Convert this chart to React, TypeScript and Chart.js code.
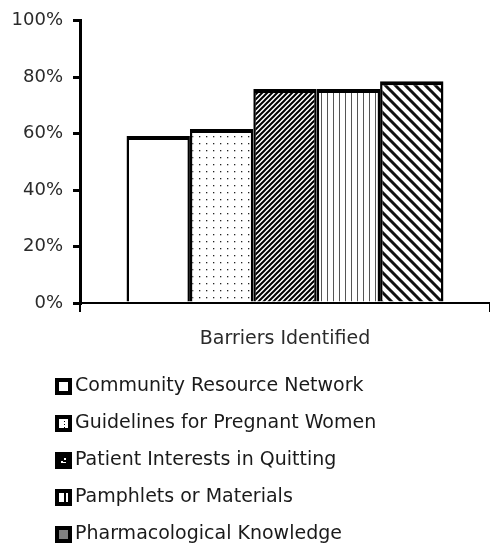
import React, { useEffect, useRef } from 'react';
import { Chart, registerables } from 'chart.js';

Chart.register(...registerables);

const categories = ['Barriers Identified'];
const seriesNames = [
  'Community Resource Network',
  'Guidelines for Pregnant Women',
  'Patient Interests in Quitting',
  'Pamphlets or Materials',
  'Pharmacological Knowledge',
];
const seriesValues = [59.2, 61.7, 75.8, 75.8, 78.6];
const seriesPatterns = ['blank', 'dots', 'denseSlash', 'vlines', 'backslash'];
const yTickValues = [0, 20, 40, 60, 80, 100];

const FONT = '"DejaVu Sans", Verdana, sans-serif';

function makePattern(kind: string): CanvasPattern | string {
  if (kind === 'blank') return '#ffffff';
  const c = document.createElement('canvas');
  const ctx = c.getContext('2d')!;
  if (kind === 'dots') {
    c.width = 7; c.height = 7;
    ctx.fillStyle = '#fff'; ctx.fillRect(0, 0, 7, 7);
    ctx.fillStyle = '#222'; ctx.fillRect(3, 3, 1.3, 1.3);
  } else if (kind === 'denseSlash') {
    c.width = 5; c.height = 5;
    ctx.fillStyle = '#fff'; ctx.fillRect(0, 0, 5, 5);
    ctx.strokeStyle = '#000'; ctx.lineWidth = 2;
    ctx.beginPath();
    ctx.moveTo(-1, 6); ctx.lineTo(6, -1);
    ctx.moveTo(-1, 1); ctx.lineTo(1, -1);
    ctx.moveTo(4, 6); ctx.lineTo(6, 4);
    ctx.stroke();
  } else if (kind === 'vlines') {
    c.width = 6; c.height = 6;
    ctx.fillStyle = '#fff'; ctx.fillRect(0, 0, 6, 6);
    ctx.fillStyle = '#555'; ctx.fillRect(3, 0, 1, 6);
  } else if (kind === 'backslash') {
    c.width = 10; c.height = 10;
    ctx.fillStyle = '#fff'; ctx.fillRect(0, 0, 10, 10);
    ctx.strokeStyle = '#111'; ctx.lineWidth = 3;
    ctx.beginPath();
    ctx.moveTo(-1, -1); ctx.lineTo(11, 11);
    ctx.moveTo(-1, 9); ctx.lineTo(1, 11);
    ctx.moveTo(9, -1); ctx.lineTo(11, 1);
    ctx.stroke();
  }
  return ctx.createPattern(c, 'repeat')!;
}

function makeIcon(i: number): HTMLCanvasElement {
  const c = document.createElement('canvas');
  c.width = 17; c.height = 17;
  const ctx = c.getContext('2d')!;
  ctx.fillStyle = '#000';
  ctx.fillRect(0, 0, 17, 17);
  if (i === 2) {
    ctx.fillStyle = '#fff';
    ctx.fillRect(6, 9, 2, 2);
    ctx.fillRect(9, 6, 2, 2);
    ctx.fillRect(8, 10, 3, 1);
    return c;
  }
  ctx.fillStyle = i === 4 ? '#808080' : '#fff';
  ctx.fillRect(4, 4, 9, 9);
  ctx.fillStyle = '#000';
  if (i === 1) {
    ctx.fillRect(9, 6, 1, 1);
    ctx.fillRect(9, 9, 1, 1);
    ctx.fillRect(9, 12, 1, 1);
  } else if (i === 3) {
    ctx.fillRect(9, 4, 2, 9);
  }
  return c;
}

const legendShift = {
  id: 'legendShift',
  afterLayout(chart: any) {
    if (chart.legend) {
      chart.legend.left = 43.5;
    }
  },
};

export default function App() {
  const ref = useRef<HTMLCanvasElement | null>(null);

  useEffect(() => {
    if (!ref.current) return;
    const icons = seriesNames.map((_, i) => makeIcon(i));
    const chart = new Chart(ref.current, {
      type: 'bar',
      data: {
        labels: categories,
        datasets: seriesNames.map((name, i) => ({
          label: name,
          data: [seriesValues[i]],
          backgroundColor: makePattern(seriesPatterns[i]) as any,
          borderColor: '#000',
          borderWidth: { top: 4, left: 2.5, right: 2.5, bottom: 0 },
          borderSkipped: false as any,
          categoryPercentage: 0.773,
          barPercentage: 1,
        })),
      },
      plugins: [legendShift],
      options: {
        animation: false,
        responsive: true,
        maintainAspectRatio: false,
        devicePixelRatio: 1,
        layout: { padding: { top: 20, left: 0, right: 0, bottom: -8 } },
        plugins: {
          tooltip: { enabled: false },
          legend: {
            position: 'bottom',
            align: 'start',
            labels: {
              usePointStyle: true,
              boxWidth: 4,
              boxHeight: 19,
              padding: 18,
              color: '#1a1a1a',
              font: { family: FONT, size: 19 },
              generateLabels: (ch: any) =>
                ch.data.datasets.map((ds: any, i: number) => ({
                  text: ds.label,
                  pointStyle: icons[i],
                  datasetIndex: i,
                  hidden: false,
                  fillStyle: '#fff',
                  strokeStyle: '#000',
                  lineWidth: 0,
                  fontColor: '#1a1a1a',
                })),
            },
          },
        },
        scales: {
          x: {
            offset: true,
            afterFit: (s: any) => { s.height = 56; },
            grid: {
              offset: true,
              drawOnChartArea: false,
              drawTicks: true,
              tickLength: 9,
              lineWidth: 2,
              color: '#000',
            },
            border: { display: true, color: '#000', width: 2 },
            ticks: {
              padding: 16,
              color: '#2a2a2a',
              font: { family: FONT, size: 19 },
            },
          },
          y: {
            min: 0,
            max: 100,
            afterFit: (s: any) => { s.width = 80; },
            afterBuildTicks: (s: any) => { s.ticks = yTickValues.map((v) => ({ value: v })); },
            grid: {
              drawOnChartArea: false,
              drawTicks: true,
              tickLength: 7,
              lineWidth: 3,
              color: '#000',
            },
            border: { display: true, color: '#000', width: 3 },
            ticks: {
              padding: 10,
              color: '#2a2a2a',
              font: { family: FONT, size: 18 },
              callback: (v: any) => `${v}%`,
            },
          },
        },
      },
    });
    return () => chart.destroy();
  }, []);

  return (
    <div style={{ position: 'fixed', left: 0, top: 0, width: 490, height: 546, background: '#fff' }}>
      <canvas ref={ref} />
    </div>
  );
}
